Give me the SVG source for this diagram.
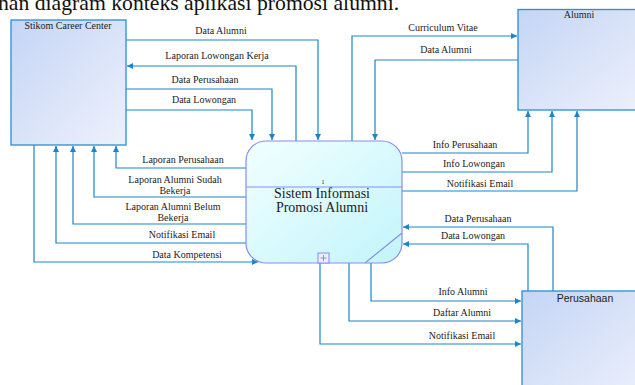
<svg xmlns="http://www.w3.org/2000/svg" width="635" height="385" viewBox="0 0 635 385">
<style>
.t{font-family:"Liberation Serif","Times New Roman",serif;font-size:10px;fill:#222;text-anchor:middle}
.c{fill:none;stroke:#1a86c8;stroke-width:1.2}
.ent{stroke:#2a8fd0;stroke-width:1.3}
.hd{font-family:"Liberation Serif","Times New Roman",serif;font-size:21.7px;fill:#111}
</style>
<defs>
<linearGradient id="gEnt" x1="0" y1="0" x2="1" y2="1">
<stop offset="0" stop-color="#c4d5f5"/>
<stop offset="1" stop-color="#eef1fc"/>
</linearGradient>
<linearGradient id="gProc" x1="0" y1="0" x2="1" y2="1">
<stop offset="0" stop-color="#f2ffff"/>
<stop offset="1" stop-color="#c2f5fb"/>
</linearGradient>
<marker id="ar" viewBox="0 0 10 10" refX="10" refY="5" markerWidth="7" markerHeight="6" markerUnits="userSpaceOnUse" orient="auto">
<path d="M0,0 L10,5 L0,10 z" fill="#1a86c8"/>
</marker>
</defs>
<rect width="635" height="385" fill="#fff"/>
<text class="hd" x="-2" y="10">han diagram konteks aplikasi promosi alumni.</text>

<g id="connectors">
<path class="c" d="M126,40 H318 V140" marker-end="url(#ar)"/>
<path class="c" d="M296,141 V66 H127" marker-end="url(#ar)"/>
<path class="c" d="M126,89 H272 V140" marker-end="url(#ar)"/>
<path class="c" d="M126,110 H252 V140" marker-end="url(#ar)"/>
<path class="c" d="M352,141 V36 H517" marker-end="url(#ar)"/>
<path class="c" d="M518,60 H375 V140" marker-end="url(#ar)"/>
<path class="c" d="M246,168 H116 V146" marker-end="url(#ar)"/>
<path class="c" d="M246,197 H94 V146" marker-end="url(#ar)"/>
<path class="c" d="M246,224 H73 V146" marker-end="url(#ar)"/>
<path class="c" d="M247,243 H56 V146" marker-end="url(#ar)"/>
<path class="c" d="M34,145 V262 H258" marker-end="url(#ar)"/>
<path class="c" d="M402,153 H528 V111" marker-end="url(#ar)"/>
<path class="c" d="M402,172 H552 V111" marker-end="url(#ar)"/>
<path class="c" d="M402,191 H577 V111" marker-end="url(#ar)"/>
<path class="c" d="M553,291 V227 H403" marker-end="url(#ar)"/>
<path class="c" d="M528,291 V244 H403" marker-end="url(#ar)"/>
<path class="c" d="M371,263 V301 H521" marker-end="url(#ar)"/>
<path class="c" d="M349,263 V321 H521" marker-end="url(#ar)"/>
<path class="c" d="M320,263 V344 H521" marker-end="url(#ar)"/>
<text class="t" x="221" y="34">Data Alumni</text>
<text class="t" x="217" y="59">Laporan Lowongan Kerja</text>
<text class="t" x="205" y="83">Data Perusahaan</text>
<text class="t" x="204" y="103">Data Lowongan</text>
<text class="t" x="443" y="31">Curriculum Vitae</text>
<text class="t" x="446" y="53">Data Alumni</text>
<text class="t" x="183" y="163">Laporan Perusahaan</text>
<text class="t" x="175" y="183">Laporan Alumni Sudah</text>
<text class="t" x="175" y="194">Bekerja</text>
<text class="t" x="173" y="210">Laporan Alumni Belum</text>
<text class="t" x="173" y="221">Bekerja</text>
<text class="t" x="182" y="238">Notifikasi Email</text>
<text class="t" x="187" y="258">Data Kompetensi</text>
<text class="t" x="465" y="148">Info Perusahaan</text>
<text class="t" x="474" y="167">Info Lowongan</text>
<text class="t" x="480" y="187">Notifikasi Email</text>
<text class="t" x="478" y="222">Data Perusahaan</text>
<text class="t" x="473" y="239">Data Lowongan</text>
<text class="t" x="463" y="295">Info Alumni</text>
<text class="t" x="462" y="316">Daftar Alumni</text>
<text class="t" x="462" y="339">Notifikasi Email</text>
</g>

<g id="stikom">
<rect class="ent" x="11" y="20" width="115" height="125" fill="url(#gEnt)"/>
<text class="t" x="68" y="29">Stikom Career Center</text>
</g>

<g id="alumni">
<rect class="ent" x="518" y="9.5" width="130" height="100.5" fill="url(#gEnt)"/>
<text class="t" x="579" y="18">Alumni</text>
</g>

<g id="perusahaan">
<rect class="ent" x="522" y="291" width="130" height="110" fill="url(#gEnt)"/>
<text x="585" y="302" style="font-family:'Liberation Sans',Arial,sans-serif;font-size:10.5px;fill:#222;text-anchor:middle">Perusahaan</text>
</g>

<g id="process">
<rect x="246" y="141" width="156" height="122" rx="20" ry="20" fill="url(#gProc)" stroke="#8a8cf0" stroke-width="1.2"/>
<line x1="246" y1="187" x2="402" y2="187" stroke="#8a8cf0" stroke-width="1.2"/>
<line x1="365" y1="263" x2="402" y2="233" stroke="#8a8cf0" stroke-width="1.2"/>
<rect x="318" y="253" width="11" height="10" fill="#eef" stroke="#8a8cf0" stroke-width="1"/>
<path d="M320.5,258 H326.5 M323.5,255 V261" stroke="#8a8cf0" stroke-width="1"/>
<text class="t" x="323" y="184" style="font-size:6px">1</text>
<text class="t" x="322" y="198" style="font-size:14px">Sistem Informasi</text>
<text class="t" x="322" y="212" style="font-size:14px">Promosi Alumni</text>
</g>
</svg>
